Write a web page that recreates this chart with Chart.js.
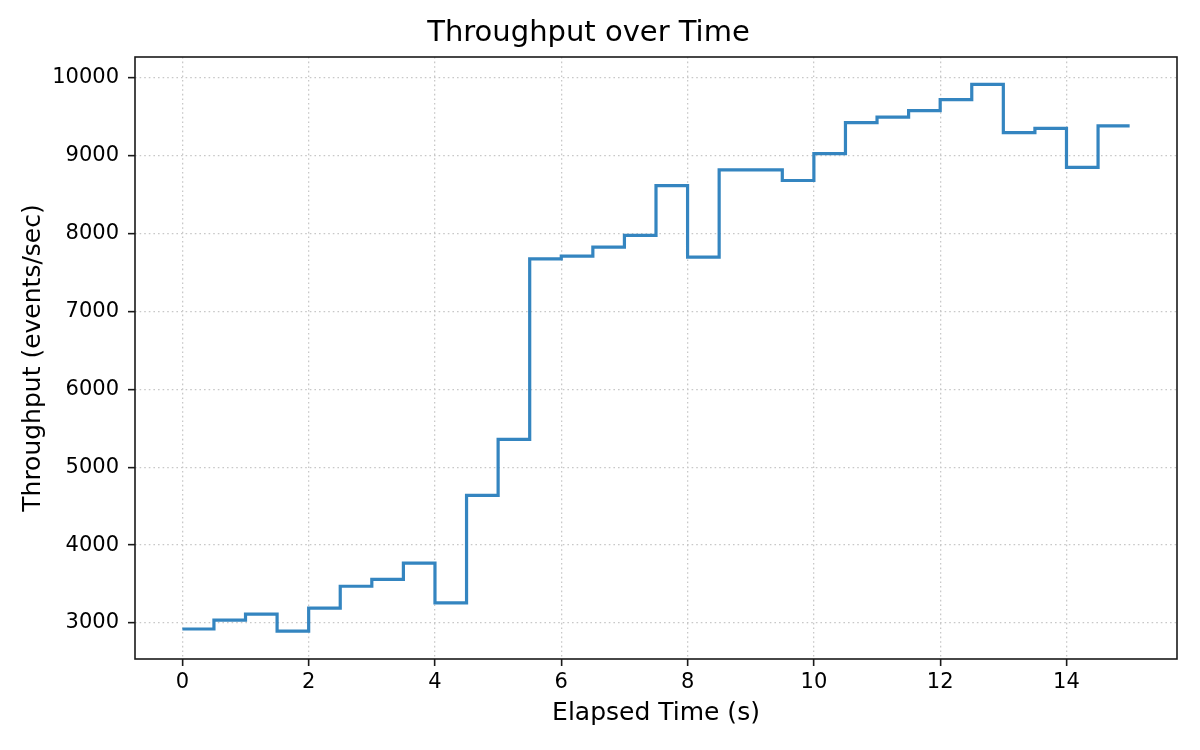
<!DOCTYPE html>
<html>
<head>
<meta charset="utf-8">
<title>Throughput over Time</title>
<script src="https://cdn.jsdelivr.net/npm/chart.js@4.4.1/dist/chart.umd.min.js"></script>
<style>
  body { margin: 0; background: #fff; }
  #wrap { width: 1200px; height: 750px; position: relative; }
</style>
</head>
<body>
<div id="wrap"><canvas id="graph"></canvas></div>
<script>
// elapsed time (s)
const temps = [0, 0.5, 1, 1.5, 2, 2.5, 3, 3.5, 4, 4.5, 5, 5.5, 6, 6.5, 7, 7.5,
  8, 8.5, 9, 9.5, 10, 10.5, 11, 11.5, 12, 12.5, 13, 13.5, 14, 14.5, 15];
// throughput (events/sec)
const debit = [2923, 3038, 3115, 2895, 3192, 3472, 3560, 3769, 3258, 4637, 5357, 7675,
  7709, 7824, 7975, 8615, 7697, 8816, 8816, 8680, 9024, 9423, 9493, 9577, 9717,
  9914, 9294, 9350, 8849, 9381, 9381];
const xTicks = [0, 2, 4, 6, 8, 10, 12, 14];
const yTicks = [3000, 4000, 5000, 6000, 7000, 8000, 9000, 10000];

const points = temps.map((t, i) => ({x: t, y: debit[i]}));

// matplotlib style frame (all four spines)
const cadre = {
  id: 'cadre',
  afterDatasetsDraw(chart) {
    const a = chart.chartArea;
    const ctx = chart.ctx;
    ctx.save();
    ctx.strokeStyle = '#1a1a1a';
    ctx.lineWidth = 1.6;
    ctx.strokeRect(a.left, a.top, a.right - a.left, a.bottom - a.top);
    ctx.restore();
  }
};

const grille = {
  color: '#c8c8c8',
  lineWidth: 1.3,
  tickColor: '#1a1a1a',
  tickWidth: 1.6,
  tickLength: 7,
  tickBorderDash: []
};

const graph = document.getElementById('graph');
new Chart(graph, {
  type: 'line',
  data: {
    datasets: [{
      label: 'Throughput',
      data: points,
      stepped: 'before',
      borderColor: '#3485c0',
      borderWidth: 3.2,
      pointRadius: 0,
      fill: false
    }]
  },
  plugins: [cadre],
  options: {
    responsive: true,
    maintainAspectRatio: false,
    animation: false,
    layout: {
      padding: {left: 0, right: 23, top: 0, bottom: 0}
    },
    plugins: {
      legend: {display: false},
      tooltip: {enabled: false},
      title: {
        display: true,
        text: 'Throughput over Time',
        color: '#000',
        font: {family: 'DejaVu Sans', size: 29, weight: 'normal'},
        padding: {top: 16, bottom: 6.2}
      }
    },
    scales: {
      x: {
        type: 'linear',
        min: -0.75,
        max: 15.75,
        afterBuildTicks: (s) => { s.ticks = xTicks.map(v => ({value: v})); },
        afterFit: (s) => { s.height = 91; },
        grid: grille,
        border: {display: false, dash: [1.6, 3]},
        ticks: {
          color: '#000',
          padding: 4,
          maxRotation: 0,
          font: {family: 'DejaVu Sans', size: 21},
          callback: (v) => String(v)
        },
        title: {
          display: true,
          text: 'Elapsed Time (s)',
          color: '#000',
          font: {family: 'DejaVu Sans', size: 25},
          padding: {top: 0, bottom: 22}
        }
      },
      y: {
        type: 'linear',
        min: 2538,
        max: 10265,
        afterBuildTicks: (s) => { s.ticks = yTicks.map(v => ({value: v})); },
        afterFit: (s) => { s.width = 135; },
        grid: grille,
        border: {display: false, dash: [1.6, 3]},
        ticks: {
          color: '#000',
          padding: 9,
          font: {family: 'DejaVu Sans', size: 21},
          callback: (v) => String(v)
        },
        title: {
          display: true,
          text: 'Throughput (events/sec)',
          color: '#000',
          font: {family: 'DejaVu Sans', size: 25},
          padding: {top: 18, bottom: 0}
        }
      }
    }
  }
});
</script>
</body>
</html>
